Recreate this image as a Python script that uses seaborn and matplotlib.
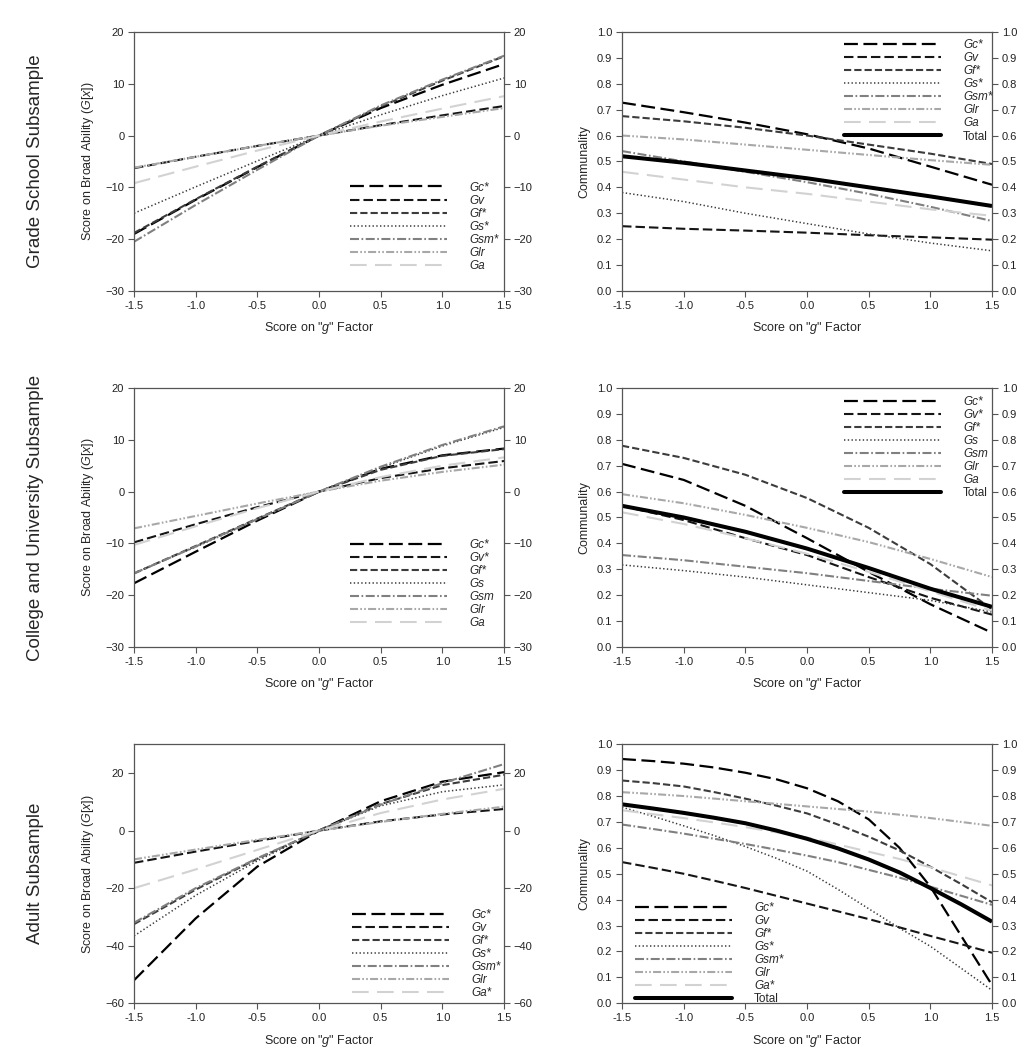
import numpy as np
import pandas as pd
import seaborn as sns
import matplotlib.pyplot as plt
from matplotlib.lines import Line2D

# x values (score on g factor)
g_factor = [-1.5, -1.0, -0.5, 0.0, 0.5, 1.0, 1.5]
# adult communality curves bend a lot, read them on a finer grid
g_factor_fine = [-1.5, -1.25, -1.0, -0.75, -0.5, -0.25, 0.0, 0.25, 0.5, 0.75, 1.0, 1.25, 1.5]

# Grade school: score on broad ability
grade_broad = {
    "Gc": [-19.0, -12.4, -6.1, 0.0, 5.3, 9.8, 13.8],
    "Gv": [-6.3, -4.1, -2.0, 0.0, 2.0, 3.9, 5.7],
    "Gf": [-18.8, -12.3, -6.0, 0.0, 5.6, 10.6, 15.3],
    "Gs": [-15.0, -9.9, -4.9, 0.0, 4.0, 7.7, 11.1],
    "Gsm": [-20.5, -13.4, -6.6, 0.0, 5.8, 10.8, 15.4],
    "Glr": [-6.2, -4.1, -2.0, 0.0, 1.9, 3.6, 5.3],
    "Ga": [-9.2, -6.0, -2.9, 0.0, 2.7, 5.2, 7.6],
}
# Grade school: communality
grade_comm = {
    "Gc": [0.727, 0.69, 0.65, 0.605, 0.55, 0.48, 0.41],
    "Gv": [0.25, 0.24, 0.233, 0.225, 0.215, 0.207, 0.198],
    "Gf": [0.675, 0.655, 0.63, 0.60, 0.565, 0.53, 0.49],
    "Gs": [0.38, 0.345, 0.30, 0.26, 0.22, 0.185, 0.155],
    "Gsm": [0.54, 0.50, 0.46, 0.42, 0.375, 0.325, 0.27],
    "Glr": [0.60, 0.585, 0.565, 0.545, 0.525, 0.505, 0.487],
    "Ga": [0.46, 0.43, 0.40, 0.375, 0.345, 0.315, 0.29],
    "Total": [0.52, 0.495, 0.465, 0.435, 0.40, 0.365, 0.328],
}
grade_stars = ["Gc", "Gf", "Gs", "Gsm"]

# College and university
college_broad = {
    "Gc": [-17.7, -11.6, -5.6, 0.0, 4.4, 7.0, 8.3],
    "Gv": [-9.8, -6.3, -3.0, 0.0, 2.6, 4.5, 5.9],
    "Gf": [-15.8, -10.5, -5.2, 0.0, 4.2, 6.9, 8.2],
    "Gs": [-15.7, -10.7, -5.4, 0.0, 4.6, 8.8, 12.4],
    "Gsm": [-15.8, -10.6, -5.3, 0.0, 4.8, 9.0, 12.6],
    "Glr": [-7.1, -4.7, -2.3, 0.0, 2.1, 3.8, 5.2],
    "Ga": [-10.3, -6.7, -3.2, 0.0, 2.8, 5.0, 6.6],
}
college_comm = {
    "Gc": [0.707, 0.645, 0.545, 0.42, 0.29, 0.165, 0.055],
    "Gv": [0.545, 0.49, 0.42, 0.355, 0.27, 0.19, 0.125],
    "Gf": [0.777, 0.73, 0.665, 0.575, 0.46, 0.32, 0.145],
    "Gs": [0.317, 0.295, 0.27, 0.24, 0.21, 0.18, 0.135],
    "Gsm": [0.355, 0.335, 0.31, 0.285, 0.255, 0.225, 0.198],
    "Glr": [0.59, 0.555, 0.51, 0.46, 0.405, 0.34, 0.27],
    "Ga": [0.52, 0.475, 0.42, 0.36, 0.29, 0.215, 0.14],
    "Total": [0.545, 0.50, 0.445, 0.38, 0.305, 0.225, 0.155],
}
college_stars = ["Gc", "Gv", "Gf"]

# Adult
adult_broad = {
    "Gc": [-52.0, -30.5, -12.5, 0.0, 10.2, 17.0, 20.3],
    "Gv": [-11.2, -7.3, -3.6, 0.0, 3.2, 5.6, 7.5],
    "Gf": [-32.5, -20.5, -9.8, 0.0, 9.2, 15.8, 19.4],
    "Gs": [-36.6, -22.5, -10.5, 0.0, 8.6, 13.5, 15.9],
    "Gsm": [-32.0, -20.0, -9.6, 0.0, 9.0, 16.5, 23.1],
    "Glr": [-10.0, -6.6, -3.2, 0.0, 3.0, 5.8, 8.3],
    "Ga": [-20.0, -13.5, -6.7, 0.0, 6.1, 10.8, 14.5],
}
adult_comm = {
    "Gc": [0.943, 0.935, 0.925, 0.91, 0.89, 0.865, 0.83, 0.78, 0.71, 0.60, 0.45, 0.26, 0.07],
    "Gv": [0.545, 0.523, 0.50, 0.473, 0.445, 0.415, 0.385, 0.355, 0.325, 0.293, 0.26, 0.228, 0.195],
    "Gf": [0.86, 0.85, 0.837, 0.815, 0.79, 0.763, 0.733, 0.69, 0.643, 0.59, 0.527, 0.46, 0.39],
    "Gs": [0.757, 0.722, 0.685, 0.647, 0.605, 0.56, 0.51, 0.44, 0.365, 0.29, 0.22, 0.135, 0.05],
    "Gsm": [0.69, 0.673, 0.655, 0.635, 0.615, 0.593, 0.57, 0.545, 0.515, 0.485, 0.45, 0.415, 0.38],
    "Glr": [0.815, 0.808, 0.80, 0.79, 0.78, 0.77, 0.76, 0.75, 0.74, 0.728, 0.715, 0.70, 0.685],
    "Ga": [0.745, 0.73, 0.715, 0.698, 0.68, 0.66, 0.64, 0.613, 0.585, 0.557, 0.525, 0.49, 0.455],
    "Total": [0.768, 0.752, 0.735, 0.716, 0.695, 0.667, 0.635, 0.598, 0.555, 0.505, 0.445, 0.382, 0.315],
}
adult_stars = ["Gc", "Gf", "Gs", "Gsm", "Ga"]

row_titles = ["Grade School Subsample", "College and University Subsample", "Adult Subsample"]

# line look per ability: colour, width (pt), dash pattern in points (None = solid)
styles = {
    "Gc": ("#000000", 1.6, (10, 4)),
    "Gv": ("#151515", 1.5, (6.8, 2.9)),
    "Gf": ("#3c3c3c", 1.5, (5.2, 2.2)),
    "Gs": ("#3a3a3a", 1.1, (1.0, 1.7)),
    "Gsm": ("#808080", 1.5, (6.5, 1.8, 1.2, 1.8)),
    "Glr": ("#a8a8a8", 1.5, (5.8, 1.6, 1.2, 1.6, 1.2, 1.6)),
    "Ga": ("#d2d2d2", 1.5, (12, 6)),
    "Total": ("#000000", 2.9, None),
}

sns.set_style("ticks")
plt.rcParams["font.family"] = ["Liberation Sans", "DejaVu Sans"]
plt.rcParams["mathtext.fontset"] = "custom"
plt.rcParams["mathtext.rm"] = "Liberation Sans"
plt.rcParams["mathtext.it"] = "Liberation Sans:italic"
plt.rcParams["lines.scale_dashes"] = False
plt.rcParams["axes.edgecolor"] = "#555555"
plt.rcParams["xtick.color"] = "#555555"
plt.rcParams["ytick.color"] = "#555555"
plt.rcParams["xtick.labelcolor"] = "#222222"
plt.rcParams["ytick.labelcolor"] = "#222222"

fig = plt.figure(figsize=(10.35, 10.5), dpi=100)

left_x, right_x, ax_w, ax_h = 0.1295, 0.601, 0.3575, 0.2467
row_bottoms = [0.7229, 0.3838, 0.0445]

panels = [
    (grade_broad, g_factor, grade_comm, g_factor, grade_stars),
    (college_broad, g_factor, college_comm, g_factor, college_stars),
    (adult_broad, g_factor, adult_comm, g_factor_fine, adult_stars),
]
# legend anchors (axes fraction) for [broad, communality]
leg_pos = [
    [(0.568, 0.445), (0.584, 0.995)],
    [(0.568, 0.44), (0.584, 0.993)],
    [(0.573, 0.387), (0.019, 0.415)],
]


def draw_panel(ax, xs, data, stars, anchor):
    handles, labels = [], []
    for ab, vals in data.items():
        col, lw, dash = styles[ab]
        sns.lineplot(x=xs, y=vals, ax=ax, color=col, linewidth=lw,
                     legend=False, sort=False)
        line = ax.lines[-1]
        h = Line2D([], [], color=col, linewidth=lw)
        if dash is not None:
            line.set_dashes(dash)
            h.set_dashes(dash)
        line.set_solid_capstyle("butt")
        line.set_dash_capstyle("butt")
        handles.append(h)
        labels.append(ab + ("*" if ab in stars else ""))
    leg = ax.legend(handles, labels, loc="upper left", bbox_to_anchor=anchor,
                    frameon=False, borderpad=0, handlelength=8.2,
                    handletextpad=1.9, labelspacing=0.09, fontsize=8.5)
    for t, ab in zip(leg.get_texts(), data.keys()):
        if ab != "Total":
            t.set_fontstyle("italic")
    ax.set_xlim(-1.5, 1.5)
    ax.set_xticks(np.arange(-1.5, 1.51, 0.5))
    ax.set_xticklabels([f"{v:.1f}" for v in np.arange(-1.5, 1.51, 0.5)])
    ax.set_xlabel('Score on "$g$" Factor', fontsize=9, labelpad=7)
    ax.tick_params(axis="both", labelsize=8, length=4, width=0.8, pad=3)
    ax.tick_params(axis="y", right=True, labelright=True)
    for s in ax.spines.values():
        s.set_linewidth(0.9)


for r, (broad, xb, comm, xc, stars) in enumerate(panels):
    ax_l = fig.add_axes([left_x, row_bottoms[r], ax_w, ax_h])
    ax_r = fig.add_axes([right_x, row_bottoms[r], ax_w, ax_h])

    draw_panel(ax_l, xb, broad, stars, leg_pos[r][0])
    if r < 2:
        ax_l.set_ylim(-30, 20)
        ax_l.set_yticks(np.arange(-30, 21, 10))
    else:
        ax_l.set_ylim(-60, 30)
        ax_l.set_yticks(np.arange(-60, 21, 20))
    ax_l.set_ylabel("Score on Broad Ability ($G$[$x$])", fontsize=9, labelpad=7)

    draw_panel(ax_r, xc, comm, stars, leg_pos[r][1])
    ax_r.set_ylim(0, 1)
    ax_r.set_yticks(np.arange(0, 1.01, 0.1))
    ax_r.set_yticklabels([f"{v:.1f}" for v in np.arange(0, 1.01, 0.1)])
    ax_r.set_ylabel("Communality", fontsize=9, labelpad=5)

    fig.text(0.034, row_bottoms[r] + ax_h / 2, row_titles[r], rotation=90,
             ha="center", va="center", fontsize=13.5)

fig.savefig("out.png", dpi=100)
